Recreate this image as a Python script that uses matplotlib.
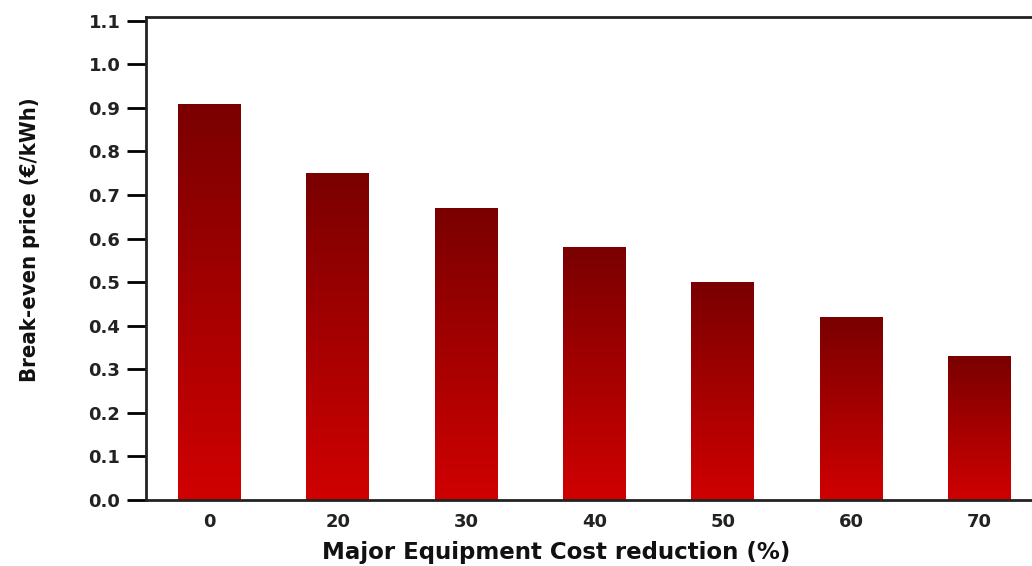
import matplotlib.pyplot as plt
import numpy as np
from matplotlib.colors import LinearSegmentedColormap

# Break-even price vs. major equipment cost reduction
reductions = ["0", "20", "30", "40", "50", "60", "70"]
prices = [0.91, 0.75, 0.67, 0.58, 0.50, 0.42, 0.33]
yticks = [0.0, 0.1, 0.2, 0.3, 0.4, 0.5, 0.6, 0.7, 0.8, 0.9, 1.0, 1.1]

# dark red at the top of each bar, bright red at its foot
grad = LinearSegmentedColormap.from_list("bar", ["#d00000", "#7a0000"])


def main():
    fig = plt.figure(figsize=(10.32, 5.66), dpi=100)
    ax = fig.add_axes([0.1415, 0.1166, 0.870, 0.8534])

    x = np.arange(len(reductions))
    width = 0.49
    bars = ax.bar(x, prices, width=width, color="none", edgecolor="none")

    g = np.linspace(0, 1, 256).reshape(-1, 1)
    for rect in bars:
        x0 = rect.get_x()
        h = rect.get_height()
        im = ax.imshow(g, extent=[x0, x0 + rect.get_width(), 0, h],
                       origin="lower", aspect="auto", cmap=grad, zorder=2)
        im.set_clip_path(rect)

    ax.set_xlim(-0.494, len(reductions) - 0.5)
    ax.set_ylim(0, 1.1086)
    ax.set_xticks(x)
    ax.set_xticklabels(reductions)
    ax.set_yticks(yticks)
    ax.set_yticklabels([f"{v:.1f}" for v in yticks])

    for lab in ax.get_xticklabels() + ax.get_yticklabels():
        lab.set_fontweight("bold")
        lab.set_fontsize(13)
        lab.set_color("#222222")
        lab.set_family("DejaVu Sans")

    ax.tick_params(axis="x", length=0, pad=9)
    ax.tick_params(axis="y", direction="out", length=14, width=2, pad=4.5)

    for sp in ax.spines.values():
        sp.set_linewidth(2)
        sp.set_color("#222222")

    ax.set_xlabel("Major Equipment Cost reduction (%)", fontsize=16.5,
                  fontweight="bold", family="DejaVu Sans", color="#111111")
    ax.xaxis.set_label_coords(0.457, -0.085)
    ax.set_ylabel("Break-even price (€/kWh)", fontsize=15.8, fontweight="bold",
                  fontstretch="condensed", family="DejaVu Sans",
                  color="#111111")
    ax.yaxis.set_label_coords(-0.118, 0.539)

    fig.savefig("out.png", dpi=100)
    plt.close(fig)


if __name__ == "__main__":
    main()
